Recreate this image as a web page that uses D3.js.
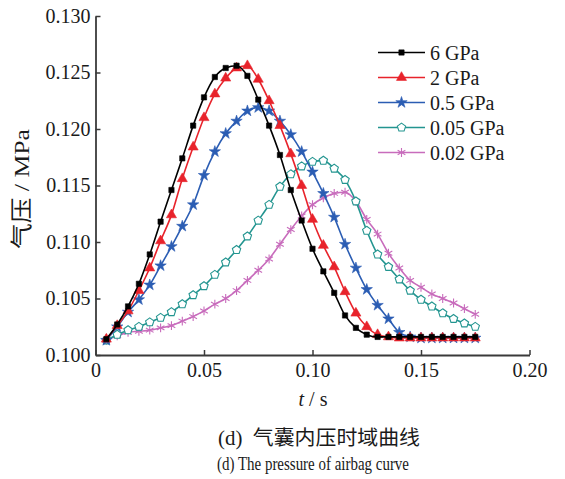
<!DOCTYPE html>
<html>
<head>
<meta charset="utf-8">
<script src="https://cdn.jsdelivr.net/npm/d3@7"></script>
<style>
  body { margin: 0; background: #fff; }
  svg { display: block; }
  text { font-family: "Liberation Serif", "DejaVu Serif", "Noto Sans CJK SC", serif; fill: #1a1a1a; }
</style>
</head>
<body>
<svg id="chart" width="565" height="479"></svg>
<script>
// time samples (s)
var times = [0.005, 0.010, 0.015, 0.020, 0.025, 0.030, 0.035, 0.040, 0.045, 0.050,
  0.055, 0.060, 0.065, 0.070, 0.075, 0.080, 0.085, 0.090, 0.095, 0.100,
  0.105, 0.110, 0.115, 0.120, 0.125, 0.130, 0.135, 0.140, 0.145, 0.150,
  0.155, 0.160, 0.165, 0.170, 0.175];

var seriesNames = ["6 GPa", "2 GPa", "0.5 GPa", "0.05 GPa", "0.02 GPa"];

// pressure (MPa)
var p6 = [0.1014, 0.1027, 0.1043, 0.1063, 0.1089, 0.1118, 0.1146, 0.1174, 0.1203, 0.1228,
  0.1246, 0.1254, 0.1256, 0.1247, 0.1226, 0.1203, 0.1177, 0.1146, 0.1119, 0.1094,
  0.1074, 0.1055, 0.1035, 0.1024, 0.1018, 0.1016, 0.1016, 0.1016, 0.1016, 0.1016,
  0.1016, 0.1016, 0.1016, 0.1016, 0.1016];
var p2 = [0.1014, 0.1026, 0.1039, 0.1057, 0.1077, 0.1101, 0.1124, 0.1156, 0.1184, 0.1210,
  0.1231, 0.1245, 0.1254, 0.1256, 0.1244, 0.1225, 0.1203, 0.1178, 0.1150, 0.1120,
  0.1097, 0.1078, 0.1056, 0.1037, 0.1025, 0.1018, 0.1016, 0.1015, 0.1015, 0.1015,
  0.1015, 0.1015, 0.1015, 0.1015, 0.1015];
var p05 = [0.1013, 0.1025, 0.1038, 0.1049, 0.1062, 0.1079, 0.1096, 0.1114, 0.1133, 0.1159,
  0.1180, 0.1196, 0.1207, 0.1216, 0.1219, 0.1216, 0.1207, 0.1195, 0.1180, 0.1162,
  0.1143, 0.1122, 0.1098, 0.1077, 0.1058, 0.1044, 0.1032, 0.1020, 0.1016, 0.1015,
  0.1015, 0.1015, 0.1015, 0.1015, 0.1015];
var p005 = [0.1013, 0.1018, 0.1022, 0.1025, 0.1029, 0.1033, 0.1038, 0.1045, 0.1053, 0.1061,
  0.1071, 0.1082, 0.1093, 0.1105, 0.1119, 0.1133, 0.1149, 0.1160, 0.1167, 0.1171,
  0.1172, 0.1165, 0.1155, 0.1136, 0.1110, 0.1089, 0.1078, 0.1067, 0.1057, 0.1049,
  0.1043, 0.1037, 0.1032, 0.1028, 0.1025];
var p002 = [0.1013, 0.1017, 0.1020, 0.1021, 0.1022, 0.1024, 0.1026, 0.1030, 0.1034, 0.1039,
  0.1045, 0.1050, 0.1057, 0.1066, 0.1075, 0.1085, 0.1098, 0.1111, 0.1123, 0.1133,
  0.1139, 0.1143, 0.1144, 0.1136, 0.1120, 0.1107, 0.1090, 0.1077, 0.1066, 0.1060,
  0.1054, 0.1050, 0.1046, 0.1041, 0.1036];

var xTicks = [0, 0.05, 0.10, 0.15, 0.20];
var xTickLabels = ["0", "0.05", "0.10", "0.15", "0.20"];
var yTicks = [0.100, 0.105, 0.110, 0.115, 0.120, 0.125, 0.130];

var colors = ["#000000", "#e8232b", "#2b5db3", "#239590", "#c86cbc"];

// pentagon marker
var symbolPentagon = {
  draw: function (ctx, size) {
    var r = Math.sqrt(size) * 0.62;
    for (var i = 0; i < 5; i++) {
      var a = -Math.PI / 2 + i * 2 * Math.PI / 5;
      if (i === 0) ctx.moveTo(r * Math.cos(a), r * Math.sin(a));
      else ctx.lineTo(r * Math.cos(a), r * Math.sin(a));
    }
    ctx.closePath();
  }
};

var markers = [
  { type: d3.symbolSquare, size: 28, fill: true },
  { type: d3.symbolTriangle, size: 44, fill: true },
  { type: d3.symbolStar, size: 40, fill: true },
  { type: symbolPentagon, size: 50, fill: false },
  { type: d3.symbolAsterisk, size: 55, fill: false }
];

var series = [p6, p2, p05, p005, p002].map(function (vals, i) {
  return { name: seriesNames[i], color: colors[i], marker: markers[i],
    values: vals.map(function (v, j) { return { t: times[j], p: v }; }) };
});

var svg = d3.select("#chart");

var x = d3.scaleLinear().domain([0, 0.2]).range([95.5, 529.5]);
var y = d3.scaleLinear().domain([0.1, 0.13]).range([355, 16]);

var axisColor = "#3a3a3a";

var xAxis = svg.append("g")
  .attr("transform", "translate(0,355)")
  .call(d3.axisBottom(x).tickValues(xTicks)
    .tickFormat(function (d, i) { return xTickLabels[i]; })
    .tickSizeInner(-5).tickSizeOuter(0).tickPadding(8));

var yAxis = svg.append("g")
  .attr("transform", "translate(95.5,0)")
  .call(d3.axisLeft(y).tickValues(yTicks).tickFormat(d3.format(".3f"))
    .tickSizeInner(-5).tickSizeOuter(0).tickPadding(5));

[xAxis, yAxis].forEach(function (a) {
  a.select(".domain").attr("stroke", axisColor).attr("stroke-width", 1.8);
  a.selectAll(".tick line").attr("stroke", axisColor).attr("stroke-width", 1.5);
  a.selectAll(".tick text").attr("font-size", 20).attr("fill", "#1a1a1a");
});

var line = d3.line()
  .x(function (d) { return x(d.t); })
  .y(function (d) { return y(d.p); })
  .curve(d3.curveMonotoneX);

function drawMarker(sel, s) {
  sel.attr("d", d3.symbol().type(s.marker.type).size(s.marker.size))
    .attr("fill", s.marker.fill ? s.color : "#fff")
    .attr("stroke", s.color)
    .attr("stroke-width", s.marker.fill ? 0.6 : 1.1);
}

// draw back to front so black sits on top
series.slice().reverse().forEach(function (s) {
  var g = svg.append("g");
  g.append("path")
    .datum(s.values)
    .attr("fill", "none")
    .attr("stroke", s.color)
    .attr("stroke-width", 1.6)
    .attr("d", line);
  g.selectAll("path.m")
    .data(s.values)
    .enter().append("path")
    .attr("class", "m")
    .attr("transform", function (d) { return "translate(" + x(d.t) + "," + y(d.p) + ")"; })
    .call(drawMarker, s);
});

// legend
var legend = svg.append("g");
series.forEach(function (s, i) {
  var ly = 52.5 + i * 25;
  legend.append("line")
    .attr("x1", 378).attr("x2", 425).attr("y1", ly).attr("y2", ly)
    .attr("stroke", s.color).attr("stroke-width", 1.7);
  legend.append("path")
    .attr("transform", "translate(401.5," + ly + ")")
    .call(drawMarker, s);
  legend.append("text")
    .attr("x", 430).attr("y", ly + 7)
    .attr("font-size", 20)
    .text(s.name);
});

// axis titles
svg.append("text")
  .attr("transform", "translate(29,189) rotate(-90)")
  .attr("text-anchor", "middle")
  .attr("font-size", 22)
  .attr("textLength", 120)
  .attr("lengthAdjust", "spacingAndGlyphs")
  .text("气压 / MPa");

var xt = svg.append("text")
  .attr("x", 313).attr("y", 406)
  .attr("text-anchor", "middle")
  .attr("font-size", 20);
xt.append("tspan").attr("font-style", "italic").text("t");
xt.append("tspan").text(" / s");

// captions
svg.append("text")
  .attr("x", 319).attr("y", 445)
  .attr("text-anchor", "middle")
  .attr("font-size", 20)
  .attr("textLength", 202)
  .attr("lengthAdjust", "spacingAndGlyphs")
  .text("(d)\u00a0\u00a0气囊内压时域曲线");

svg.append("text")
  .attr("x", 313).attr("y", 470)
  .attr("text-anchor", "middle")
  .attr("font-size", 18)
  .attr("textLength", 192)
  .attr("lengthAdjust", "spacingAndGlyphs")
  .text("(d)  The pressure of airbag curve");
</script>
</body>
</html>
